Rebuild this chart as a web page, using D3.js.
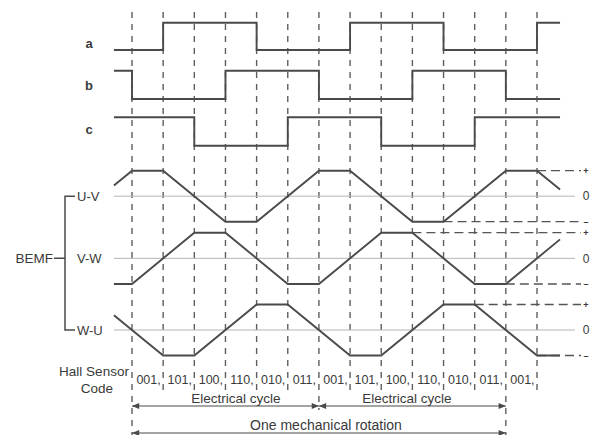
<!DOCTYPE html>
<html><head><meta charset="utf-8">
<script src="https://cdn.jsdelivr.net/npm/d3@7"></script>
<style>html,body{margin:0;padding:0;background:#fff}svg{display:block}</style>
</head><body>
<script>
// ---- data ----
const sectorTicks = [0,1,2,3,4,5,6,7,8,9,10,11,12,13];
const hallCodes = ["001","101","100","110","010","011","001","101","100","110","010","011","001"];
const signalNames = ["a","b","c"];
const sigA = [[-0.58,0],[1,1],[4,0],[7,1],[10,0],[13,1],[13.74,1]];
const sigB = [[-0.58,1],[0,0],[3,1],[6,0],[9,1],[12,0],[13.74,0]];
const sigC = [[-0.58,1],[2,0],[5,1],[8,0],[11,1],[13.74,1]];
const bemfNames = ["U-V","V-W","W-U"];
const bemfUV = [[-0.58,0.42],[0,1],[1,1],[3,-1],[4,-1],[6,1],[7,1],[9,-1],[10,-1],[12,1],[13,1],[13.74,0.26]];
const bemfVW = [[-0.58,-1],[0,-1],[2,1],[3,1],[5,-1],[6,-1],[8,1],[9,1],[11,-1],[12,-1],[13.74,0.74]];
const bemfWU = [[-0.58,0.58],[1,-1],[2,-1],[4,1],[5,1],[7,-1],[8,-1],[10,1],[11,1],[13,-1],[13.74,-1]];
const levelMarks = ["+","0","–"];
const cycleLabels = ["Electrical cycle","Electrical cycle"];
const cycleSpans = [[0,6],[6,12]];
const rotationSpan = [0,12];
const rotationLabel = "One mechanical rotation";

// ---- layout ----
const W = 593, H = 435;
const svg = d3.select("body").append("svg").attr("width", W).attr("height", H);
const x = d3.scaleLinear().domain([0,13]).range([132,537]);
const ink = "#4a4a4a", txt = "#3a3a3a";
const font = "'Liberation Sans', Arial, sans-serif";

const defs = svg.append("defs");
defs.append("marker").attr("id","arr").attr("viewBox","0 0 10 10").attr("refX",10).attr("refY",5)
  .attr("markerWidth",7).attr("markerHeight",6).attr("orient","auto-start-reverse")
  .append("path").attr("d","M0,1 L10,5 L0,9 Z").attr("fill",ink);

// vertical dashed lines
const vBottom = t => (t===0||t===12) ? 435 : (t===6 ? 410 : 390);
svg.append("g").selectAll("line").data(sectorTicks).join("line")
  .attr("x1", d=>x(d)).attr("x2", d=>x(d)).attr("y1", 12).attr("y2", d=>vBottom(d))
  .attr("stroke","#5e5e5e").attr("stroke-width",1.4).attr("stroke-dasharray","6,6");

// digital rows
const digRows = [
  {name: signalNames[0], data: sigA, hi: 22.7, lo: 50, ly: 43},
  {name: signalNames[1], data: sigB, hi: 70.7, lo: 99, ly: 85},
  {name: signalNames[2], data: sigC, hi: 117.3, lo: 145.7, ly: 129}
];
digRows.forEach(r=>{
  const y = d3.scaleLinear().domain([0,1]).range([r.lo, r.hi]);
  const line = d3.line().x(d=>x(d[0])).y(d=>y(d[1])).curve(d3.curveStepAfter);
  svg.append("path").attr("d", line(r.data)).attr("fill","none").attr("stroke",ink).attr("stroke-width",1.9);
  svg.append("text").attr("x",89).attr("y",r.ly).attr("dy","0.35em").attr("text-anchor","middle")
    .attr("font-family",font).attr("font-size",13).attr("font-weight","bold").attr("fill",txt).text(r.name);
});

// BEMF rows
const bemfRows = [
  {name: bemfNames[0], data: bemfUV, top: 170.7, bot: 221.7},
  {name: bemfNames[1], data: bemfVW, top: 232.7, bot: 284},
  {name: bemfNames[2], data: bemfWU, top: 304.5, bot: 355.5}
];
bemfRows.forEach(r=>{
  const y = d3.scaleLinear().domain([-1,1]).range([r.bot, r.top]);
  svg.append("line").attr("x1",114).attr("x2",575).attr("y1",y(0)).attr("y2",y(0))
    .attr("stroke","#b5b5b5").attr("stroke-width",1);
  [1,-1].forEach(v=>{
    const flats = r.data.filter((d,i)=> i>0 && d[1]===v && r.data[i-1][1]===v);
    const start = flats.length ? flats[flats.length-1][0] : 13;
    svg.append("line").attr("x1",x(Math.min(start,13))).attr("x2",581).attr("y1",y(v)).attr("y2",y(v))
      .attr("stroke","#555").attr("stroke-width",1.3).attr("stroke-dasharray","9,5");
  });
  const line = d3.line().x(d=>x(d[0])).y(d=>y(d[1]));
  svg.append("path").attr("d", line(r.data)).attr("fill","none").attr("stroke",ink).attr("stroke-width",1.9);
  [[1,levelMarks[0],9],[0,levelMarks[1],12],[-1,levelMarks[2],9]].forEach(([v,m,fs])=>{
    svg.append("text").attr("x",586).attr("y",y(v)).attr("dy","0.35em").attr("text-anchor","middle")
      .attr("font-family",font).attr("font-size", fs).attr("font-weight", v===0?"normal":"bold")
      .attr("fill",txt).text(m);
  });
  svg.append("text").attr("x",77).attr("y",y(0)).attr("dy","0.35em")
    .attr("font-family",font).attr("font-size",13).attr("fill",txt).text(r.name);
  r.zero = y(0);
});

// bracket
const bTop = bemfRows[0].zero, bBot = bemfRows[2].zero, bMid = bemfRows[1].zero;
svg.append("path").attr("d",`M75,${bTop} H65 V${bBot} H75 M65,${bMid} H54`)
  .attr("fill","none").attr("stroke",ink).attr("stroke-width",1.5);
svg.append("text").attr("x",53).attr("y",bMid).attr("dy","0.35em").attr("text-anchor","end")
  .attr("font-family",font).attr("font-size",13.5).attr("fill",txt).text("BEMF");

// hall codes
svg.append("text").attr("x",94).attr("y",371).attr("dy","0.35em").attr("text-anchor","middle")
  .attr("font-family",font).attr("font-size",13.5).attr("fill",txt).text("Hall Sensor");
svg.append("text").attr("x",97).attr("y",388).attr("dy","0.35em").attr("text-anchor","middle")
  .attr("font-family",font).attr("font-size",13.5).attr("fill",txt).text("Code");
svg.append("g").selectAll("text").data(hallCodes).join("text")
  .attr("x",(d,i)=>x(i+0.5)+1).attr("y",380).attr("dy","0.35em").attr("text-anchor","middle")
  .attr("font-family",font).attr("font-size",12.5).attr("fill",txt).text(d=>d+",");

// electrical cycle arrows
cycleSpans.forEach(s=>{
  svg.append("line").attr("x1",x(s[0])).attr("x2",x(s[1])).attr("y1",406).attr("y2",406)
    .attr("stroke",ink).attr("stroke-width",1.2)
    .attr("marker-start","url(#arr)").attr("marker-end","url(#arr)");
});
svg.append("text").attr("x",236).attr("y",398).attr("dy","0.35em").attr("text-anchor","middle")
  .attr("font-family",font).attr("font-size",13.5).attr("fill",txt).text(cycleLabels[0]);
svg.append("text").attr("x",407).attr("y",398).attr("dy","0.35em").attr("text-anchor","middle")
  .attr("font-family",font).attr("font-size",13.5).attr("fill",txt).text(cycleLabels[1]);

svg.append("line").attr("x1",x(rotationSpan[0])).attr("x2",x(rotationSpan[1])).attr("y1",433).attr("y2",433)
  .attr("stroke",ink).attr("stroke-width",1.2)
  .attr("marker-start","url(#arr)").attr("marker-end","url(#arr)");
svg.append("text").attr("x",326).attr("y",425).attr("dy","0.35em").attr("text-anchor","middle")
  .attr("font-family",font).attr("font-size",14).attr("fill",txt).text(rotationLabel);
</script>
</body></html>
